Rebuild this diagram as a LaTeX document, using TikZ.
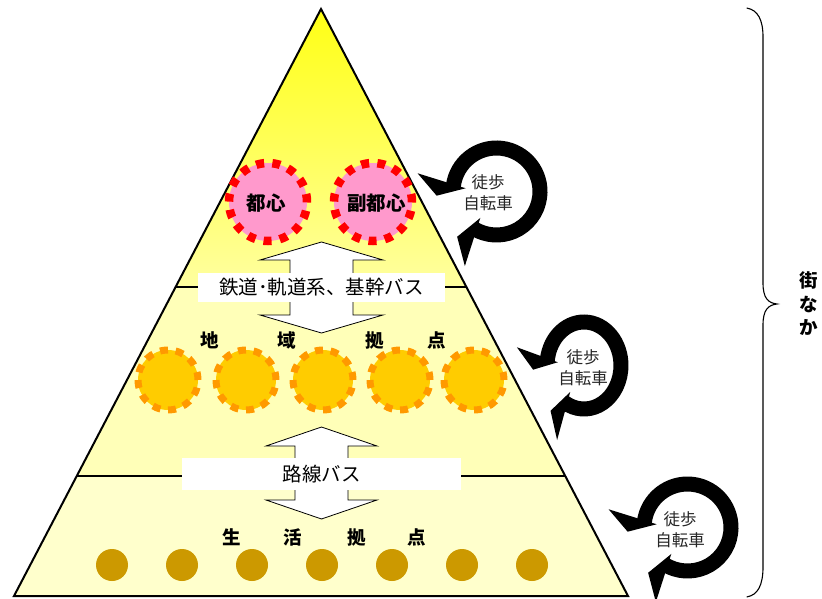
\documentclass[tikz,border=0pt]{standalone}
\usepackage{fontspec}
\newfontfamily\jp{Noto Sans CJK JP}
\usetikzlibrary{calc}
\definecolor{ytop}{HTML}{FFFF14}
\definecolor{ymid}{HTML}{FFFFA0}
\definecolor{ylow}{HTML}{FFFFB8}
\definecolor{ybot}{HTML}{FFFFCC}
\definecolor{pinkfill}{HTML}{FF99CC}
\definecolor{orfill}{HTML}{FFCC00}
\definecolor{ordash}{HTML}{FF9900}
\definecolor{dotfill}{HTML}{CC9900}
\tikzset{
  pinkring/.style={circle, inner sep=0, minimum size=78, fill=pinkfill, draw=red, line width=8.5, dash pattern=on 8pt off 8.3pt},
  orring/.style={circle, inner sep=0, minimum size=60, fill=orfill, draw=ordash, line width=7, dash pattern=on 8pt off 7.7pt},
  dot/.style={circle, inner sep=0, minimum size=32, fill=dotfill},
  blabel/.style={inner sep=0, font=\jp\bfseries\fontsize{18.5}{18.5}\selectfont},
  clabel/.style={inner sep=0, font=\jp\bfseries\fontsize{19.5}{19.5}\selectfont},
  boxlabel/.style={fill=white, inner sep=0, font=\jp\fontsize{19.5}{19.5}\selectfont},
  ringtext/.style={inner sep=0, text=black!85, font=\jp\fontsize{16.5}{16.5}\selectfont},
  twoarrow/.style={fill=white, draw=black, line width=0.8},
}
\newcommand\mycyc[3]{%
  \begin{scope}[shift={(#1,#2)}, xscale=#3]
    \draw[line width=15] (-173:43.5) arc[start angle=-173, end angle=121, radius=43.5];
    \fill (-167:81) -- (-174:31) -- (-184:60) -- cycle;
    \fill (113:81) -- (121.5:31) -- (131:60) -- cycle;
  \end{scope}}
\begin{document}
\begin{tikzpicture}[x=1pt,y=-1pt]
\useasboundingbox (0,0) rectangle (822,599);
% pyramid
\coordinate (apex) at (321,9);
\coordinate (bl) at (14,596);
\coordinate (br) at (628,596);
\coordinate (l1) at (175.6,287);
\coordinate (r1) at (466.4,287);
\coordinate (l2) at (76.8,476);
\coordinate (r2) at (565.2,476);
\shade[top color=ytop, bottom color=ymid] (apex) -- (r1) -- (l1) -- cycle;
\fill[ylow] (l1) -- (r1) -- (r2) -- (l2) -- cycle;
\fill[ybot] (l2) -- (r2) -- (br) -- (bl) -- cycle;
\draw[line width=1.3] (l1) -- (r1);
\draw[line width=1.3] (l2) -- (r2);
\draw[line width=2] (apex) -- (br) -- (bl) -- cycle;
% double arrows
\draw[twoarrow] (321.5,242) -- (383,260) -- (353,260) -- (353,315) -- (383,315) -- (321.5,333)
  -- (260,315) -- (290,315) -- (290,260) -- (260,260) -- cycle;
\draw[twoarrow] (321.5,427) -- (377,446) -- (348,446) -- (348,500) -- (377,500) -- (321.5,519)
  -- (266,500) -- (295,500) -- (295,446) -- (266,446) -- cycle;
\node[boxlabel, minimum width=247, minimum height=29] (rail) at (321.5,287.5) {鉄道･軌道系、基幹バス};
\node[boxlabel, minimum width=279, minimum height=32] (bus) at (321.5,474) {路線バス};
% top circles
\node[pinkring] (toshin) at (268,202) {};
\node[pinkring] (fuku) at (373,202) {};
\node[clabel] (tt) at (266,203) {都心};
\node[clabel] (ft) at (376.5,203) {副都心};
% middle circles
\foreach \x [count=\i] in {168,246,323,400,474} {
  \node[orring] (o\i) at (\x,380) {};
}
\node[blabel] (m1) at (210,340) {地};
\node[blabel] (m2) at (287,340) {域};
\node[blabel] (m3) at (375,340) {拠};
\node[blabel] (m4) at (437,340) {点};
% bottom dots
\foreach \x [count=\i] in {112,182,252,322,392,462,532} {
  \node[dot] (d\i) at (\x,565) {};
}
\node[blabel] (s1) at (232,537) {生};
\node[blabel] (s2) at (293,537) {活};
\node[blabel] (s3) at (357,537) {拠};
\node[blabel] (s4) at (417,537) {点};
% circular arrows
\mycyc{496.5}{191.5}{1}
\mycyc{584}{365.5}{0.85}
\mycyc{687.5}{527.5}{1}
\node[ringtext] (w1) at (488,182) {徒歩};
\node[ringtext] (j1) at (488,203) {自転車};
\node[ringtext] (w2) at (583,357) {徒歩};
\node[ringtext] (j2) at (583,378) {自転車};
\node[ringtext] (w3) at (680,519) {徒歩};
\node[ringtext] (j3) at (680,540) {自転車};
% brace
\draw[line width=1.1] (746.7,8) .. controls (758,10) and (763,20) .. (763,37) -- (763,283)
  .. controls (763,298) and (768,303) .. (777,304) .. controls (768,305) and (763,310) .. (763,325)
  -- (763,567) .. controls (763,585) and (758,595) .. (746.7,597);
\node[inner sep=0, align=center, font=\jp\bfseries\fontsize{18.5}{23.5}\selectfont] (machi) at (808.5,304) {街\\な\\か};
\end{tikzpicture}
\end{document}
